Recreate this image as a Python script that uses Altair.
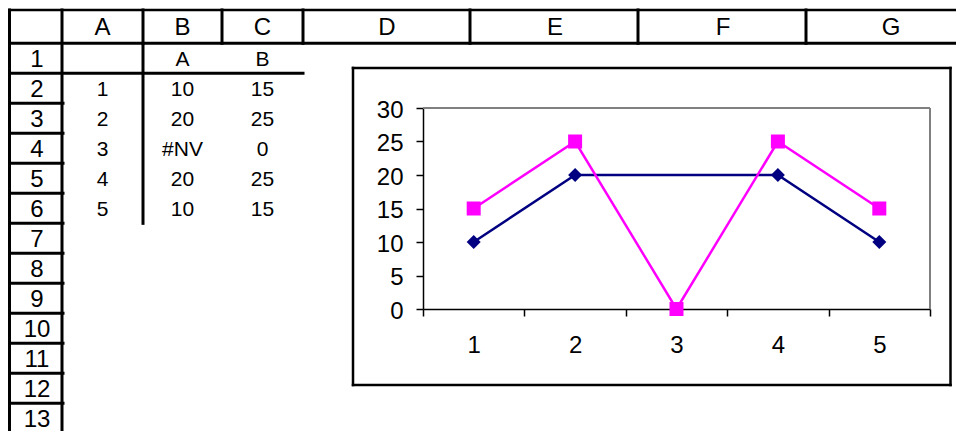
import altair as alt
import pandas as pd

# ---------------- data ----------------
categories = [1, 2, 3, 4, 5]
series_a = [10, 20, None, 20, 10]
series_b = [15, 25, 0, 25, 15]
series_names = ["A", "B"]
na_text = "#NV"
column_letters = ["A", "B", "C", "D", "E", "F", "G"]
row_numbers = list(range(1, 14))
y_ticks = [0, 5, 10, 15, 20, 25, 30]

# ---------------- styles / layout ----------------
series_colors = ["#000080", "#FF00FF"]
series_shapes = ["diamond", "square"]
FONT = "Liberation Sans"
PAGE_MARGIN = 8
OX, OY = 423, 108            # plot-area top-left on the page
PLOT_W, PLOT_H = 507, 201
TOTAL_W, TOTAL_H = 948, 423
TOP = 6.0
HEAD_BOTTOM = 40.5
ROW_H = 31.0
LEFT = 6.5
LEFT_DRAWN = 9.5              # left border pulled inside the drawable page
col_edges = [LEFT, 62, 143, 222, 303, 470, 638, 806, 975]
header_centers = [102.5, 182.5, 262.5, 387, 555, 723, 891]
rownum_center = 37
cell_cols = {"A": 102.5, "B": 182.5, "C": 262.5}
chart_box = (353, 950.5, 68, 385)
# vertical squeeze of the sheet grid so that row 13 stays visible
SHEET_Y0_REF, SHEET_Y0_PAGE = 5.0, 9.0
SHEET_Y1_REF, SHEET_Y1_PAGE = 439.0, 429.0
SQ = (SHEET_Y1_PAGE - SHEET_Y0_PAGE) / (SHEET_Y1_REF - SHEET_Y0_REF)


def vx(x):
    return x - OX


def vy(y):
    return y - OY


def sy(y):
    return SHEET_Y0_PAGE + (y - SHEET_Y0_REF) * SQ - OY


def row_mid(r):
    return HEAD_BOTTOM + (r - 0.5) * ROW_H


# ---------------- spreadsheet frame ----------------
rules = []


def seg(x1, x2, y1, y2, w=3.0, sheet=True):
    fy = sy if sheet else vy
    rules.append({"x": vx(x1), "x2": vx(x2), "y": fy(y1), "y2": fy(y2), "w": w})


seg(LEFT_DRAWN, 975, TOP, TOP, 2.5)
seg(LEFT_DRAWN, 975, HEAD_BOTTOM, HEAD_BOTTOM)
seg(LEFT_DRAWN, LEFT_DRAWN, TOP, 445)
seg(col_edges[1], col_edges[1], TOP, 445)
for e in col_edges[2:-1]:
    seg(e, e, TOP, HEAD_BOTTOM)
seg(col_edges[2], col_edges[2], HEAD_BOTTOM, HEAD_BOTTOM + 6 * ROW_H)
seg(LEFT_DRAWN, col_edges[4], HEAD_BOTTOM + ROW_H, HEAD_BOTTOM + ROW_H)
for k in row_numbers[1:]:
    yk = HEAD_BOTTOM + k * ROW_H
    seg(LEFT_DRAWN, col_edges[1] + 1, yk, yk)
bx1, bx2, by1, by2 = chart_box
seg(bx1, bx2, by1, by1, 2.5, sheet=False)
seg(bx1, bx2, by2, by2, 2.5, sheet=False)
seg(bx1, bx1, by1, by2, 2.5, sheet=False)
seg(bx2, bx2, by1, by2, 2.5, sheet=False)
rules_df = pd.DataFrame(rules)

head_df = pd.DataFrame({
    "x": [vx(c) for c in header_centers],
    "y": [sy(23.5 + 1.4)] * len(column_letters),
    "label": column_letters,
})
rownum_df = pd.DataFrame({
    "x": [vx(rownum_center)] * len(row_numbers),
    "y": [sy(row_mid(r) + 1.4) for r in row_numbers],
    "label": [str(r) for r in row_numbers],
})


def fmt(v):
    return na_text if v is None else str(int(v))


cells = [("B", 1, series_names[0]), ("C", 1, series_names[1])]
for i, c in enumerate(categories):
    cells.append(("A", i + 2, str(c)))
    cells.append(("B", i + 2, fmt(series_a[i])))
    cells.append(("C", i + 2, fmt(series_b[i])))
cell_df = pd.DataFrame({
    "x": [vx(cell_cols[c]) for c, r, t in cells],
    "y": [sy(row_mid(r) + 1.2) for c, r, t in cells],
    "label": [t for c, r, t in cells],
})

grid = alt.Chart(rules_df).mark_rule(color="black", strokeCap="square").encode(
    x=alt.X("x:Q", scale=None, axis=None),
    x2="x2:Q",
    y=alt.Y("y:Q", scale=None, axis=None),
    y2="y2:Q",
    strokeWidth=alt.StrokeWidth("w:Q", scale=None, legend=None),
)


def text_layer(df, size):
    return alt.Chart(df).mark_text(
        font=FONT, fontSize=size, color="black", align="center", baseline="middle"
    ).encode(
        x=alt.X("x:Q", scale=None, axis=None),
        y=alt.Y("y:Q", scale=None, axis=None),
        text="label:N",
    )


heads = text_layer(head_df, 24)
rownums = text_layer(rownum_df, 24)
cell_text = text_layer(cell_df, 21)

# ---------------- line chart ----------------
recs = []
for name, vals in zip(series_names, [series_a, series_b]):
    for c, v in zip(categories, vals):
        recs.append({"cat": c, "series": name, "value": v})
series_df = pd.DataFrame(recs)

x_enc = alt.X(
    "cat:O",
    scale=alt.Scale(type="band", domain=categories, paddingInner=0, paddingOuter=0),
    axis=alt.Axis(
        title=None, labelAngle=0, tickBand="extent", tickSize=7, labelPadding=17,
        labelFont=FONT, labelFontSize=24, labelColor="black",
        domainColor="black", domainWidth=1.5, tickColor="black", tickWidth=1.5, grid=False,
    ),
)
y_enc = alt.Y(
    "value:Q",
    scale=alt.Scale(domain=[0, 30], nice=False, zero=True),
    axis=alt.Axis(
        title=None, values=y_ticks, tickSize=7, labelPadding=13, labelOffset=2,
        labelFont=FONT, labelFontSize=24, labelColor="black", labelFlush=False,
        labelOverlap=False, domainColor="black", domainWidth=1.5,
        tickColor="black", tickWidth=1.5, grid=False,
    ),
)
color_enc = alt.Color("series:N", scale=alt.Scale(domain=series_names, range=series_colors), legend=None)
shape_enc = alt.Shape("series:N", scale=alt.Scale(domain=series_names, range=series_shapes), legend=None)

base = alt.Chart(series_df).transform_filter("isValid(datum.value) && isFinite(datum.value)")
lines = base.mark_line(strokeWidth=2.5).encode(x=x_enc, y=y_enc, color=color_enc, detail="series:N")
points = base.mark_point(filled=True, size=196, opacity=1).encode(
    x=x_enc, y=y_enc, color=color_enc, shape=shape_enc
)

one = pd.DataFrame({"k": [0]})
plot_top = alt.Chart(one).mark_rule(color="#808080", strokeWidth=2).encode(
    x=alt.value(0), x2=alt.value("width"), y=alt.value(0)
)
plot_right = alt.Chart(one).mark_rule(color="#808080", strokeWidth=2).encode(
    x=alt.value("width"), y=alt.value(0), y2=alt.value("height")
)

chart = alt.layer(
    grid, heads, rownums, cell_text, plot_top, plot_right, lines, points
).properties(
    width=PLOT_W,
    height=PLOT_H,
    padding={
        "left": OX - PAGE_MARGIN,
        "top": OY - PAGE_MARGIN,
        "right": TOTAL_W - (OX - PAGE_MARGIN) - PLOT_W,
        "bottom": TOTAL_H - (OY - PAGE_MARGIN) - PLOT_H,
    },
    autosize=alt.AutoSizeParams(type="none"),
    background="white",
).configure_view(stroke=None)

chart.save("out.html", embed_options={"renderer": "svg", "actions": False})
